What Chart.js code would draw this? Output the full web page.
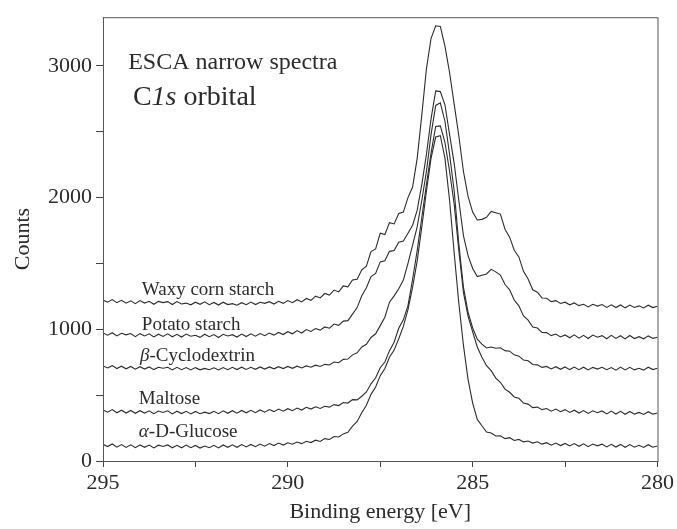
<!DOCTYPE html>
<html>
<head>
<meta charset="utf-8">
<script src="https://cdn.jsdelivr.net/npm/chart.js@4.4.1/dist/chart.umd.min.js"></script>
<style>
  html, body { margin: 0; padding: 0; background: #fff; }
</style>
</head>
<body>
<canvas id="chartEsca" width="677" height="529"></canvas>
<script>
// binding energy grid (eV), shared by every spectrum
const energy = [
  295, 294.875, 294.75, 294.625, 294.5, 294.375, 294.25, 294.125,
  294, 293.875, 293.75, 293.625, 293.5, 293.375, 293.25, 293.125,
  293, 292.875, 292.75, 292.625, 292.5, 292.375, 292.25, 292.125,
  292, 291.875, 291.75, 291.625, 291.5, 291.375, 291.25, 291.125,
  291, 290.875, 290.75, 290.625, 290.5, 290.375, 290.25, 290.125,
  290, 289.875, 289.75, 289.625, 289.5, 289.375, 289.25, 289.125,
  289, 288.875, 288.75, 288.625, 288.5, 288.375, 288.25, 288.125,
  288, 287.875, 287.75, 287.625, 287.5, 287.375, 287.25, 287.125,
  287, 286.875, 286.75, 286.625, 286.5, 286.375, 286.25, 286.125,
  286, 285.875, 285.75, 285.625, 285.5, 285.375, 285.25, 285.125,
  285, 284.875, 284.75, 284.625, 284.5, 284.375, 284.25, 284.125,
  284, 283.875, 283.75, 283.625, 283.5, 283.375, 283.25, 283.125,
  283, 282.875, 282.75, 282.625, 282.5, 282.375, 282.25, 282.125,
  282, 281.875, 281.75, 281.625, 281.5, 281.375, 281.25, 281.125,
  281, 280.875, 280.75, 280.625, 280.5, 280.375, 280.25, 280.125,
  280];

// counts
const waxyCorn = [
  1222, 1206, 1226, 1202, 1220, 1198, 1216, 1195,
  1218, 1199, 1213, 1190, 1212, 1203, 1210, 1188,
  1211, 1192, 1199, 1186, 1206, 1190, 1209, 1187,
  1204, 1184, 1206, 1188, 1195, 1183, 1202, 1187,
  1207, 1188, 1205, 1197, 1210, 1192, 1213, 1197,
  1218, 1202, 1225, 1208, 1234, 1220, 1252, 1238,
  1272, 1260, 1298, 1284, 1330, 1322, 1375, 1380,
  1452, 1480, 1590, 1610, 1730, 1720, 1810, 1800,
  1880, 1890, 2000, 2080, 2300, 2630, 2980, 3210,
  3305, 3300, 3150, 2950, 2710, 2470, 2200, 2010,
  1890, 1830, 1835, 1850, 1895, 1885, 1875, 1760,
  1700, 1600, 1550, 1440, 1382, 1300, 1282, 1238,
  1236, 1210, 1218, 1196, 1206, 1186, 1200, 1180,
  1190, 1170, 1190, 1176, 1188, 1166, 1186, 1165,
  1185, 1163, 1184, 1166, 1178, 1162, 1183, 1165,
  1175];
const potato = [
  972, 955, 974, 950, 970, 958, 968, 944,
  967, 950, 966, 942, 963, 946, 966, 943,
  962, 941, 964, 947, 955, 939, 963, 944,
  960, 938, 962, 949, 959, 941, 964, 945,
  966, 948, 968, 952, 972, 956, 976, 960,
  982, 966, 990, 972, 998, 984, 1006, 994,
  1018, 1008, 1040, 1030, 1062, 1066, 1115, 1165,
  1255, 1315, 1400, 1425, 1512, 1520, 1592, 1598,
  1662, 1670, 1730, 1790, 1905, 2100, 2330, 2600,
  2810, 2805, 2705, 2480, 2260, 1980, 1712, 1560,
  1462, 1400, 1410, 1420, 1455, 1436, 1412, 1340,
  1300, 1222, 1178, 1102, 1070, 1018, 1010, 976,
  975, 952, 964, 942, 957, 936, 958, 933,
  954, 930, 956, 940, 952, 928, 954, 931,
  951, 927, 953, 930, 944, 928, 950, 931,
  940];
const betaCD = [
  722, 707, 724, 702, 720, 700, 718, 697,
  716, 698, 714, 694, 712, 704, 712, 692,
  711, 693, 710, 691, 709, 692, 703, 693,
  708, 691, 710, 693, 711, 694, 712, 695,
  711, 696, 714, 698, 714, 700, 716, 702,
  718, 704, 720, 707, 722, 712, 728, 718,
  734, 729, 752, 746, 772, 774, 806, 822,
  866, 886, 938, 966, 1028, 1092, 1206, 1254,
  1308, 1374, 1500, 1640, 1780, 1980, 2200, 2480,
  2700, 2720, 2580, 2330, 2050, 1650, 1320, 1130,
  1010, 925, 888, 858, 866, 856, 860, 838,
  834, 806, 796, 767, 761, 733, 730, 711,
  718, 699, 716, 696, 714, 694, 713, 693,
  712, 692, 711, 698, 712, 693, 710, 690,
  713, 692, 711, 692, 704, 690, 712, 694,
  705];
const maltose = [
  388, 371, 390, 366, 386, 364, 384, 362,
  382, 364, 381, 359, 379, 369, 381, 358,
  378, 360, 377, 357, 376, 359, 371, 360,
  377, 359, 381, 362, 382, 363, 384, 366,
  385, 367, 388, 371, 391, 375, 394, 378,
  397, 382, 402, 387, 408, 394, 412, 399,
  416, 409, 428, 421, 444, 440, 466, 464,
  492, 524, 586, 632, 708, 752, 838, 902,
  1008, 1072, 1180, 1380, 1600, 1850, 2100, 2340,
  2540, 2545, 2420, 2200, 1950, 1600, 1280, 1100,
  980, 866, 788, 724, 686, 630, 598, 546,
  522, 486, 476, 440, 432, 405, 409, 390,
  398, 378, 394, 374, 390, 369, 386, 364,
  383, 361, 381, 367, 380, 358, 379, 357,
  377, 355, 376, 356, 369, 354, 374, 356,
  364];
const glucose = [
  127, 110, 129, 105, 125, 103, 123, 101,
  122, 104, 121, 99, 120, 110, 122, 100,
  119, 100, 121, 101, 118, 98, 114, 101,
  119, 99, 122, 104, 123, 104, 125, 107,
  126, 109, 129, 112, 132, 117, 136, 121,
  138, 127, 144, 132, 150, 140, 158, 148,
  170, 163, 186, 182, 206, 218, 264, 300,
  366, 424, 506, 562, 648, 702, 788, 842,
  928, 1022, 1150, 1320, 1520, 1780, 2050, 2300,
  2460, 2470, 2300, 1980, 1580, 1200, 880, 620,
  440, 316, 268, 220, 212, 190, 192, 170,
  177, 156, 164, 145, 152, 136, 146, 128,
  139, 120, 136, 117, 133, 114, 132, 112,
  130, 109, 129, 115, 128, 107, 127, 106,
  126, 104, 125, 105, 119, 103, 124, 105,
  114];

const xTickValues = [295, 292.5, 290, 287.5, 285, 282.5, 280];
const xTickLabels = [295, 290, 285, 280];
const yTickValues = [0, 500, 1000, 1500, 2000, 2500, 3000];
const yTickLabels = [0, 1000, 2000, 3000];

const seriesList = [waxyCorn, potato, betaCD, maltose, glucose];

// text placed in data coordinates: [text, italic]
const notes = [
  { parts: [['ESCA narrow spectra', false]], x: 294.32, y: 2980, size: 24 },
  { parts: [['C', false], ['1s', true], [' orbital', false]], x: 294.19, y: 2705, size: 28 },
  { parts: [['Waxy corn starch', false]], x: 293.95, y: 1262, size: 19 },
  { parts: [['Potato starch', false]], x: 293.95, y: 998, size: 19 },
  { parts: [['\u03B2', true], ['-Cyclodextrin', false]], x: 294.0, y: 758, size: 19 },
  { parts: [['Maltose', false]], x: 294.03, y: 436, size: 19 },
  { parts: [['\u03B1', true], ['-D-Glucose', false]], x: 294.03, y: 180, size: 19 }
];

const FONT = "'Liberation Serif', 'Times New Roman', serif";
const INK = '#2b2b2b';

const framePlugin = {
  id: 'frame',
  afterDraw(chart) {
    const { ctx, chartArea: a } = chart;
    ctx.save();
    ctx.strokeStyle = '#555';
    ctx.lineWidth = 1;
    ctx.strokeRect(a.left + 0.5, a.top + 0.5, a.right - a.left, a.bottom - a.top);
    ctx.restore();
  }
};

const notesPlugin = {
  id: 'notes',
  afterDraw(chart) {
    const { ctx } = chart;
    const xs = chart.scales.x, ys = chart.scales.y;
    ctx.save();
    ctx.fillStyle = INK;
    ctx.textBaseline = 'alphabetic';
    notes.forEach(n => {
      let px = xs.getPixelForValue(n.x);
      const py = ys.getPixelForValue(n.y);
      n.parts.forEach(([t, it]) => {
        ctx.font = (it ? 'italic ' : '') + n.size + 'px ' + FONT;
        ctx.fillText(t, px, py);
        px += ctx.measureText(t).width;
      });
    });
    ctx.restore();
  }
};

const ctx = document.getElementById('chartEsca');
new Chart(ctx, {
  type: 'line',
  data: {
    datasets: seriesList.map(s => ({
      data: energy.map((e, i) => ({ x: e, y: s[i] })),
      borderColor: INK,
      borderWidth: 1.1,
      pointRadius: 0,
      tension: 0,
      fill: false
    }))
  },
  options: {
    responsive: false,
    animation: false,
    layout: { padding: { top: 13, right: 19, left: 0, bottom: 0 } },
    plugins: { legend: { display: false }, tooltip: { enabled: false } },
    scales: {
      x: {
        type: 'linear',
        reverse: true,
        min: 280,
        max: 295,
        afterBuildTicks: s => { s.ticks = xTickValues.map(v => ({ value: v })); },
        ticks: {
          autoSkip: false,
          maxRotation: 0,
          padding: 3,
          color: INK,
          font: { family: FONT, size: 22 },
          callback: v => xTickLabels.includes(v) ? String(v) : ''
        },
        grid: { drawOnChartArea: false, tickLength: 6, color: '#444' },
        border: { color: '#444' },
        title: {
          display: true,
          text: 'Binding energy [eV]',
          color: INK,
          font: { family: FONT, size: 22 },
          padding: { top: 0, bottom: 4 }
        },
        afterFit: s => { s.height = 68; }
      },
      y: {
        min: 0,
        max: 3370,
        afterBuildTicks: s => { s.ticks = yTickValues.map(v => ({ value: v })); },
        ticks: {
          autoSkip: false,
          padding: 4,
          color: INK,
          font: { family: FONT, size: 22 },
          callback: v => yTickLabels.includes(v) ? String(v) : ''
        },
        grid: { drawOnChartArea: false, tickLength: 7, color: '#444' },
        border: { color: '#444' },
        title: {
          display: true,
          text: 'Counts',
          color: INK,
          font: { family: FONT, size: 22 },
          padding: { top: 10, bottom: 0 }
        },
        afterFit: s => { s.width = 103; }
      }
    }
  },
  plugins: [framePlugin, notesPlugin]
});
</script>
</body>
</html>
